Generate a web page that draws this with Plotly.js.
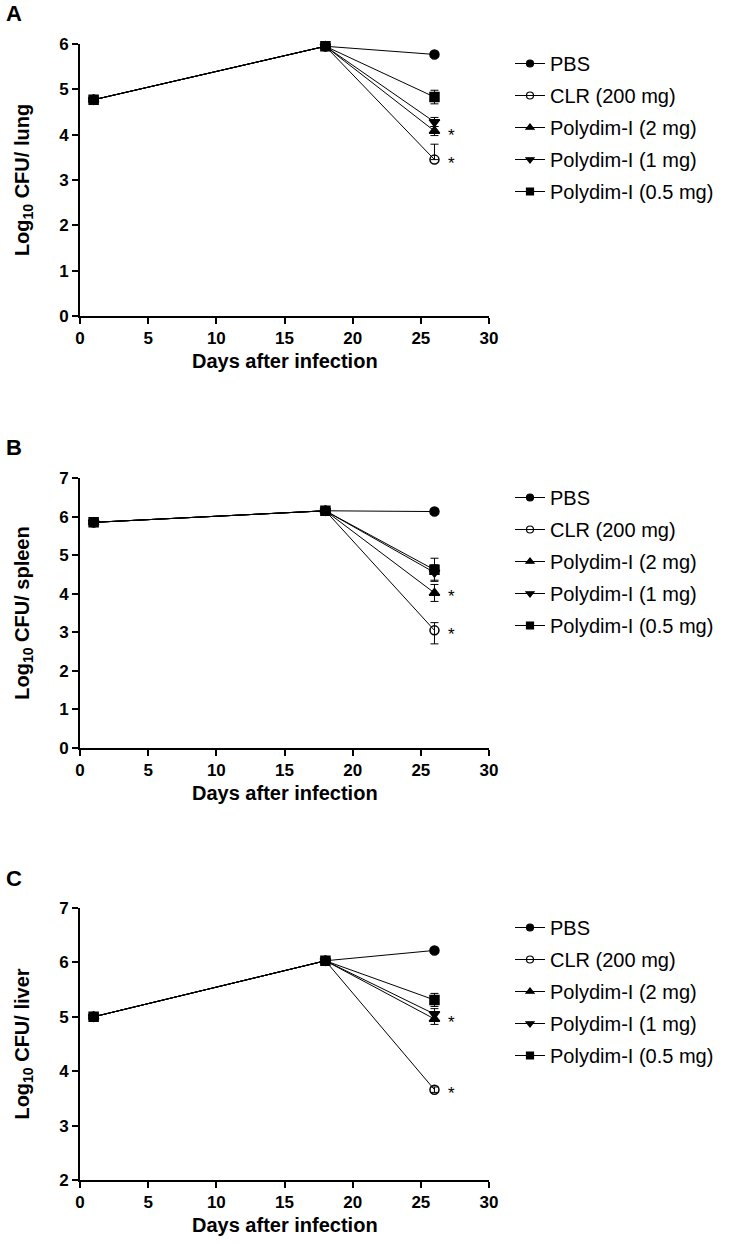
<!DOCTYPE html>
<html>
<head>
<meta charset="utf-8">
<script src="https://cdn.plot.ly/plotly-3.0.1.min.js"></script>
<style>
  body { margin: 0; background: #fff; }
  #chart { width: 740px; height: 1244px; }
</style>
</head>
<body>
<div id="chart"></div>
<script>
// days of sampling after infection
var days = [1, 18, 26];
var groups = ['PBS', 'CLR (200 mg)', 'Polydim-I (2 mg)', 'Polydim-I (1 mg)', 'Polydim-I (0.5 mg)'];
var symbols = ['circle', 'circle-open', 'triangle-up', 'triangle-down', 'square'];

// lung (panel A), log10 CFU
var lungMean = [[4.77, 5.95, 5.77], [4.77, 5.95, 3.45], [4.77, 5.95, 4.08], [4.77, 5.95, 4.28], [4.77, 5.95, 4.83]];
var lungErrUp = [[0, 0, 0.03], [0, 0, 0.34], [0, 0, 0.1], [0, 0, 0.1], [0, 0, 0.15]];
var lungErrDown = [[0, 0, 0.03], [0, 0, 0], [0, 0, 0.1], [0, 0, 0.1], [0, 0, 0.15]];

// spleen (panel B)
var spleenMean = [[5.85, 6.15, 6.13], [5.85, 6.15, 3.05], [5.85, 6.15, 4.02], [5.85, 6.15, 4.55], [5.85, 6.15, 4.62]];
var spleenErrUp = [[0, 0, 0.03], [0, 0, 0.2], [0, 0, 0.22], [0, 0, 0.2], [0, 0, 0.3]];
var spleenErrDown = [[0, 0, 0.03], [0, 0, 0.35], [0, 0, 0.22], [0, 0, 0.2], [0, 0, 0.3]];

// liver (panel C)
var liverMean = [[5.0, 6.03, 6.22], [5.0, 6.03, 3.66], [5.0, 6.03, 4.96], [5.0, 6.03, 5.05], [5.0, 6.03, 5.31]];
var liverErrUp = [[0, 0, 0.02], [0, 0, 0.05], [0, 0, 0.1], [0, 0, 0.1], [0, 0, 0.12]];
var liverErrDown = [[0, 0, 0.02], [0, 0, 0.05], [0, 0, 0.1], [0, 0, 0.1], [0, 0, 0.12]];

// groups marked with * (significant)
var starred = [1, 2];

var panels = [
  {mean: lungMean, up: lungErrUp, down: lungErrDown, xa: 'x', ya: 'y', leg: 'legend'},
  {mean: spleenMean, up: spleenErrUp, down: spleenErrDown, xa: 'x2', ya: 'y2', leg: 'legend2'},
  {mean: liverMean, up: liverErrUp, down: liverErrDown, xa: 'x3', ya: 'y3', leg: 'legend3'}
];

var data = [];
var annotations = [];
var font = 'Liberation Sans, Arial, sans-serif';

panels.forEach(function (p) {
  groups.forEach(function (g, i) {
    data.push({
      x: days,
      y: p.mean[i],
      xaxis: p.xa,
      yaxis: p.ya,
      type: 'scatter',
      mode: 'lines+markers',
      name: g,
      showlegend: false,
      cliponaxis: false,
      line: {color: 'black', width: 1},
      marker: {symbol: symbols[i], size: 9, color: 'black', line: {color: 'black', width: 1.5}},
      error_y: {type: 'data', symmetric: false, array: p.up[i], arrayminus: p.down[i],
                color: 'black', thickness: 1, width: 4},
      hoverinfo: 'none'
    });
    // legend entry with smaller marker
    data.push({
      x: [null],
      y: [null],
      xaxis: p.xa,
      yaxis: p.ya,
      type: 'scatter',
      mode: 'lines+markers',
      name: g,
      legend: p.leg,
      legendgroup: p.leg + i,
      line: {color: 'black', width: 1},
      marker: {symbol: symbols[i], size: 7, color: 'black', line: {color: 'black', width: 1.2}}
    });
  });
  starred.forEach(function (i) {
    annotations.push({
      x: days[2], y: p.mean[i][2], xref: p.xa, yref: p.ya,
      text: '*', showarrow: false, xshift: 17, yshift: -4,
      font: {family: font, size: 17, color: 'black'}
    });
  });
});

var W = 740, H = 1244;
function py(px) { return 1 - px / H; }

var xdom = [80 / W, 489 / W];
var ytops = [44, 478, 908];
var ybots = [316, 748, 1180];
var yranges = [[0, 6], [0, 7], [2, 7]];
var ytitles = ['Log<sub>10</sub> CFU/ lung', 'Log<sub>10</sub> CFU/ spleen', 'Log<sub>10</sub> CFU/ liver'];
var xtitle = 'Days after infection';
var letters = ['A', 'B', 'C'];

var layout = {
  width: W,
  height: H,
  margin: {l: 0, r: 0, t: 0, b: 0},
  paper_bgcolor: 'white',
  plot_bgcolor: 'white',
  font: {family: font, color: 'black'},
  annotations: annotations
};

function axisStyle() {
  return {
    showline: true, linecolor: 'black', linewidth: 2,
    ticks: 'outside', ticklen: 6, tickwidth: 2, tickcolor: 'black',
    showgrid: false, zeroline: false, fixedrange: true,
    tickfont: {family: font, size: 17, weight: 'bold', color: 'black'}
  };
}

for (var k = 0; k < 3; k++) {
  var sfx = k === 0 ? '' : String(k + 1);
  var xa = axisStyle();
  xa.domain = xdom;
  xa.range = [0, 30];
  xa.dtick = 5;
  xa.anchor = 'y' + sfx;
  var ya = axisStyle();
  ya.domain = [py(ybots[k]), py(ytops[k])];
  ya.range = yranges[k];
  ya.dtick = 1;
  ya.anchor = 'x' + sfx;
  ya.title = {text: ytitles[k], font: {family: font, size: 20, weight: 'bold'}};
  layout['xaxis' + sfx] = xa;
  layout['yaxis' + sfx] = ya;

  // x axis title, placed just under the tick labels
  annotations.push({
    xref: 'paper', yref: 'paper', x: (xdom[0] + xdom[1]) / 2, y: py(ybots[k] + 45),
    xanchor: 'center', yanchor: 'middle', showarrow: false,
    text: '<b>' + xtitle + '</b>',
    font: {family: font, size: 20, color: 'black'}
  });

  var legName = k === 0 ? 'legend' : 'legend' + (k + 1);
  layout[legName] = {
    x: 510 / W, xanchor: 'left',
    y: py(ytops[k] + 0), yanchor: 'top',
    bgcolor: 'rgba(0,0,0,0)',
    traceorder: 'grouped',
    tracegroupgap: 3,
    font: {family: font, size: 20, color: 'black'}
  };

  annotations.push({
    xref: 'paper', yref: 'paper', x: 4 / W, y: py(ytops[k] - 30),
    xanchor: 'left', yanchor: 'middle', showarrow: false,
    text: '<b>' + letters[k] + '</b>',
    font: {family: font, size: 22, color: 'black'}
  });
}

Plotly.newPlot('chart', data, layout, {displayModeBar: false, staticPlot: true});
</script>
</body>
</html>
